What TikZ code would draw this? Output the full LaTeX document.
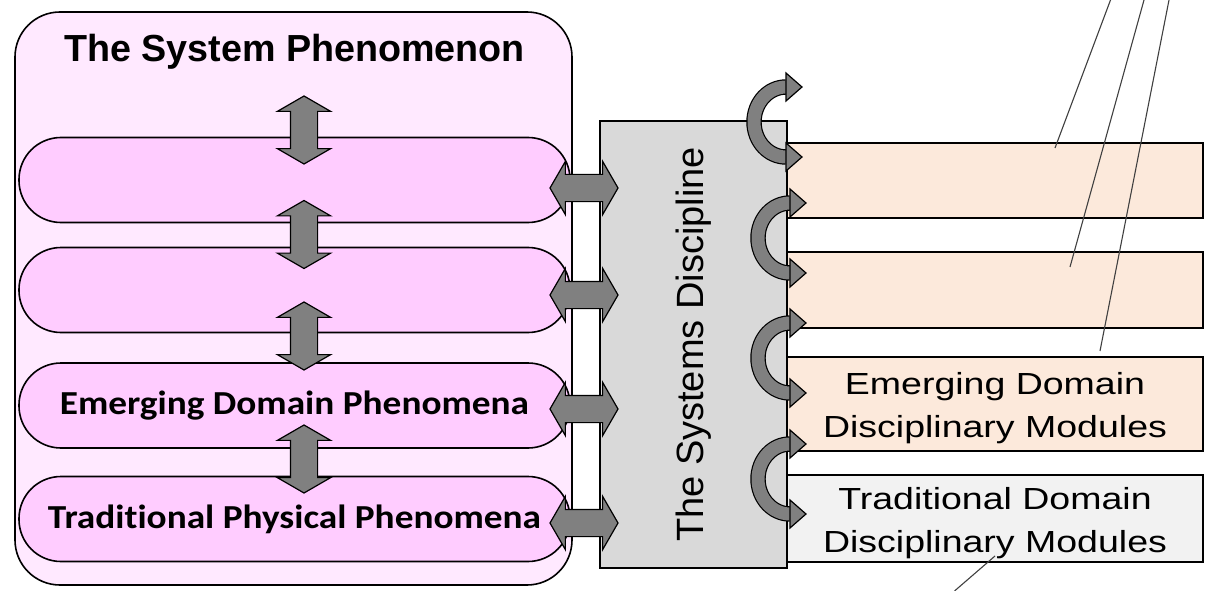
\documentclass[tikz,border=0pt]{standalone}
\usepackage{fontspec}
\setmainfont{Liberation Sans}
\newfontfamily\pillfont[FakeStretch=1.11, Ligatures=NoCommon]{Carlito}
\newfontfamily\modfont[FakeStretch=1.23]{Liberation Sans}
\usetikzlibrary{shapes.arrows}
\definecolor{sysfill}{RGB}{255,233,255}
\definecolor{pillpink}{RGB}{255,204,255}
\definecolor{discgray}{RGB}{217,217,217}
\definecolor{modpeach}{RGB}{252,233,219}
\definecolor{tradgray}{RGB}{242,242,242}
\definecolor{arrowgray}{RGB}{128,128,128}
\definecolor{leadgray}{RGB}{64,64,64}
% curved arrow on the right side of the discipline box
\newcommand{\sideloop}[2]{%
	\draw[double=arrowgray, double distance=13pt, line width=1.2pt] (#1,#2-35) arc[start angle=90, end angle=270, x radius=32pt, y radius=35pt];
	\filldraw[fill=arrowgray, line width=1.2pt] (#1,#2-49) -- (#1+16,#2-35) -- (#1,#2-21) -- cycle;
	\filldraw[fill=arrowgray, line width=1.2pt] (#1,#2+21) -- (#1+16,#2+35) -- (#1,#2+49) -- cycle;
}

\begin{document}
\begin{tikzpicture}[x=1pt,y=-1pt,
	sysbox/.style={draw, line width=1.6pt, fill=sysfill, rounded corners=45pt, minimum width=557pt, minimum height=573pt},
	pill/.style={draw, line width=1.6pt, fill=pillpink, rounded corners=42pt, minimum width=551pt, minimum height=85pt, font={\pillfont\bfseries\fontsize{33.6pt}{40pt}\selectfont}},
	biarrow/.style={double arrow, draw, fill=arrowgray, line width=1.2pt, inner xsep=0pt, inner ysep=13pt, minimum height=68pt, double arrow head extend=13pt, double arrow tip angle=120},
	modbox/.style={draw, line width=1.6pt, fill=modpeach, minimum width=416pt, inner sep=0pt},
	modtext/.style={align=center, font={\modfont\fontsize{30.5pt}{43pt}\selectfont}},
	leader/.style={draw=leadgray, line width=1.1pt}]

\useasboundingbox (0,0) rectangle (1216,591);

% left side
\node[sysbox] (sys) at (293.5,298.5) {};
\node[anchor=base, font={\bfseries\fontsize{37.7pt}{44pt}\selectfont}] (ttl) at (294.5,62) {The System Phenomenon};
\node[pill] (p1) at (294.5,180) {};
\node[pill] (p2) at (294.5,290) {};
\node[pill] (p3) at (294.5,405.5) {Emerging Domain Phenomena};
\node[pill] (p4) at (294.5,519) {Traditional Physical Phenomena};
\node[biarrow, rotate=90] (v1) at (304,130) {};
\node[biarrow, rotate=90] (v2) at (304,234.5) {};
\node[biarrow, rotate=90] (v3) at (304,336) {};
\node[biarrow, rotate=90] (v4) at (304,459) {};

% discipline and modules
\node[draw, line width=1.6pt, fill=discgray, rotate=90, minimum width=447pt, minimum height=187pt, font=\fontsize{38pt}{44pt}\selectfont] (disc) at (693.5,344.5) {The Systems Discipline};
\node[modbox, minimum height=75pt] (m1) at (995,180.5) {};
\node[modbox, minimum height=76pt] (m2) at (995,290) {};
\node[modbox, minimum height=94pt] (m3) at (995,404) {};
\node[modbox, minimum height=87pt, fill=tradgray] (m4) at (995,518.5) {};
\node[modtext] (m3t) at ([yshift=-4.5pt]m3.center) {Emerging Domain\\Disciplinary Modules};
\node[modtext] (m4t) at ([yshift=-4.5pt]m4.center) {Traditional Domain\\Disciplinary Modules};

\node[biarrow] (h1) at (584,188) {};
\node[biarrow] (h2) at (584,295) {};
\node[biarrow] (h3) at (584,409) {};
\node[biarrow] (h4) at (584,523) {};

\sideloop{786}{122}
\sideloop{790}{238}
\sideloop{790}{358}
\sideloop{790}{479}

% leader lines to labels outside
\coordinate (l1a) at (1055,148); \coordinate (l1b) at (1110.5,0);
\coordinate (l2a) at (1070,267); \coordinate (l2b) at (1144,0);
\coordinate (l3a) at (1100,351); \coordinate (l3b) at (1169,0);
\coordinate (l4a) at (995,556);  \coordinate (l4b) at (954.5,591);
\draw[leader] (l1a) -- (l1b);
\draw[leader] (l2a) -- (l2b);
\draw[leader] (l3a) -- (l3b);
\draw[leader] (l4a) -- (l4b);

\end{tikzpicture}
\end{document}
